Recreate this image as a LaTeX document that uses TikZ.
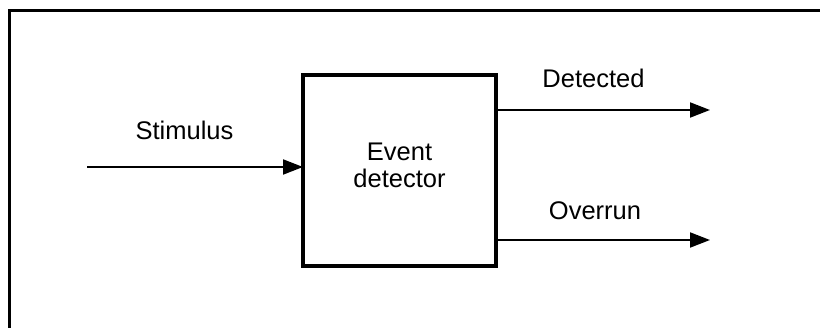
\documentclass[tikz,border=0pt]{standalone}
\usepackage{fontspec}
\setmainfont{Liberation Sans}
\usetikzlibrary{arrows.meta}
\begin{document}
\begin{tikzpicture}[x=1pt,y=1pt,
  every node/.style={font=\fontsize{25.5}{27}\selectfont},
  lbl/.style={anchor=base,inner sep=0pt},
  blockbox/.style={draw,line width=4pt,minimum width=193pt,minimum height=191pt,inner sep=0pt,outer sep=0pt},
  sig/.style={line width=2pt,-{Triangle[length=20pt,width=15pt]}},
  frameline/.style={line width=3pt}]
\useasboundingbox (0,0) rectangle (820,-328);
\draw[frameline] (822,-10.5) -- (9.5,-10.5) -- (9.5,-330);
\node[blockbox] (det) at (399.5,-170.5) {};
\node[lbl,align=center] (dettext) at (399.5,-188) {Event\\detector};
\coordinate (inp) at (87,-167);
\coordinate (o1) at (710,-110);
\coordinate (o2) at (710,-240);
\draw[sig] (inp) -- (inp -| det.west);
\draw[sig] (o1 -| det.east) -- (o1);
\draw[sig] (o2 -| det.east) -- (o2);
\node[lbl] (lstim) at (184.5,-140) {Stimulus};
\node[lbl] (ldet) at (593.5,-88) {Detected};
\node[lbl] (lover) at (595,-220) {Overrun};
\end{tikzpicture}
\end{document}
